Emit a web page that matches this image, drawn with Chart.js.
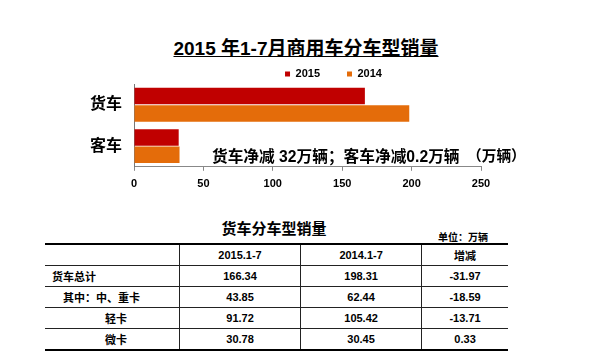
<!DOCTYPE html>
<html>
<head>
<meta charset="utf-8">
<script src="https://cdn.jsdelivr.net/npm/chart.js@4.4.1/dist/chart.umd.min.js"></script>
<style>
  html, body { margin: 0; padding: 0; background: #fff; }
  body { width: 600px; height: 351px; position: relative; overflow: hidden;
         font-family: 'Liberation Sans', 'Noto Sans CJK SC', sans-serif; font-weight: bold; color: #000; }
  .abs { position: absolute; white-space: nowrap; }
  #title { left: 0; width: 612px; top: 33px; text-align: center; font-size: 19px; text-decoration: underline; }
  #chartBox { position: absolute; left: 0; top: 36px; width: 600px; height: 167px; }
  #note { left: 212px; top: 144px; font-size: 15.7px; }
  #unit { left: 467px; top: 144px; font-size: 14.7px; }
  #tblTitle { left: 45px; width: 458px; top: 217px; text-align: center; font-size: 15px; }
  #tblUnit { left: 438px; top: 229px; font-size: 10px; }
  #tbl { position: absolute; left: 45px; top: 243px; width: 463px; border-collapse: collapse; font-size: 11px; }
  #tbl td { border-bottom: 1px solid #222; border-left: 1px solid #222; height: 20px; padding: 0; text-align: center; }
  #tbl td:first-child { border-left: none; width: 116px; }
  #tbl tr:first-child td { border-top: 2px solid #000; }
  #tbl tr:last-child td { border-bottom: 2px solid #000; }
  #tbl td.l0 { text-align: left; padding-left: 7px; }
  #tbl td.l1 { text-align: left; padding-left: 18px; }
  #tbl td.l2 { padding-left: 8px; }
</style>
</head>
<body>
<div id="title" class="abs">2015 年1-7月商用车分车型销量</div>
<div id="chartBox"><canvas id="myChart"></canvas></div>
<div id="note" class="abs">货车净减 32万辆；客车净减0.2万辆</div>
<div id="unit" class="abs">（万辆）</div>
<div id="tblTitle" class="abs">货车分车型销量</div>
<div id="tblUnit" class="abs">单位：万辆</div>
<table id="tbl"></table>

<script>
// chart data
const categories = ['货车', '客车'];
const sales2015 = [166.34, 32.2];
const sales2014 = [198.31, 32.8];
const seriesNames = ['2015', '2014'];
const xTicks = [0, 50, 100, 150, 200, 250];

// table data
const tableHeader = ['', '2015.1-7', '2014.1-7', '增减'];
const rowLabels = ['货车总计', '其中：中、重卡', '轻卡', '微卡'];
const col2015 = [166.34, 43.85, 91.72, 30.78];
const col2014 = [198.31, 62.44, 105.42, 30.45];
const colDiff = [-31.97, -18.59, -13.71, 0.33];

Chart.defaults.font.family = "'Liberation Sans', 'Noto Sans CJK SC', sans-serif";
Chart.defaults.font.weight = 'bold';
Chart.defaults.color = '#000';

// legend sits right of centre and close to the bars in the original
const legendShift = {
  id: 'legendShift',
  afterLayout(chart) {
    const lg = chart.legend;
    lg.left += 54;
    lg.right += 54;
    lg.top += 5.5;
    lg.bottom += 5.5;
  }
};

const ctx = document.getElementById('myChart').getContext('2d');
const myChart = new Chart(ctx, {
  type: 'bar',
  data: {
    labels: categories,
    datasets: [
      {
        label: seriesNames[0],
        data: sales2015,
        backgroundColor: '#c00000',
        borderWidth: 0,
        barPercentage: 0.95,
        categoryPercentage: 0.84
      },
      {
        label: seriesNames[1],
        data: sales2014,
        backgroundColor: '#e46c0a',
        borderWidth: 0,
        barPercentage: 0.95,
        categoryPercentage: 0.84
      }
    ]
  },
  options: {
    indexAxis: 'y',
    animation: false,
    maintainAspectRatio: false,
    responsive: true,
    layout: {
      padding: { left: 78, right: 119, top: 0, bottom: 5 }
    },
    plugins: {
      legend: {
        display: true,
        position: 'top',
        labels: {
          boxWidth: 5,
          boxHeight: 5,
          padding: 27,
          color: '#000',
          font: { size: 11, weight: 'bold' }
        }
      },
      tooltip: { enabled: false }
    },
    scales: {
      x: {
        min: 0,
        max: 250,
        afterBuildTicks: (scale) => {
          scale.ticks = xTicks.map(v => ({ value: v }));
        },
        grid: {
          drawOnChartArea: false,
          drawTicks: true,
          tickLength: 4,
          color: '#888'
        },
        border: { display: true, color: '#888', width: 1 },
        ticks: {
          padding: 7,
          color: '#000',
          font: { size: 11, weight: 'bold' }
        }
      },
      y: {
        grid: { display: false, drawTicks: false, tickLength: 0 },
        border: { display: true, color: '#777', width: 1 },
        ticks: {
          padding: 12,
          color: '#000',
          font: { size: 16, weight: 'bold' }
        }
      }
    }
  },
  plugins: [legendShift]
});

// table
function buildTable() {
  const tbl = document.getElementById('tbl');
  let html = '<tr>' + tableHeader.map(h => `<td>${h}</td>`).join('') + '</tr>';
  const labelClass = ['l0', 'l1', 'l2', 'l2'];
  for (let i = 0; i < rowLabels.length; i++) {
    html += '<tr>';
    html += `<td class="${labelClass[i]}">${rowLabels[i]}</td>`;
    html += `<td>${col2015[i].toFixed(2)}</td>`;
    html += `<td>${col2014[i].toFixed(2)}</td>`;
    html += `<td>${colDiff[i].toFixed(2)}</td>`;
    html += '</tr>';
  }
  tbl.innerHTML = html;
}
buildTable();
</script>
</body>
</html>
